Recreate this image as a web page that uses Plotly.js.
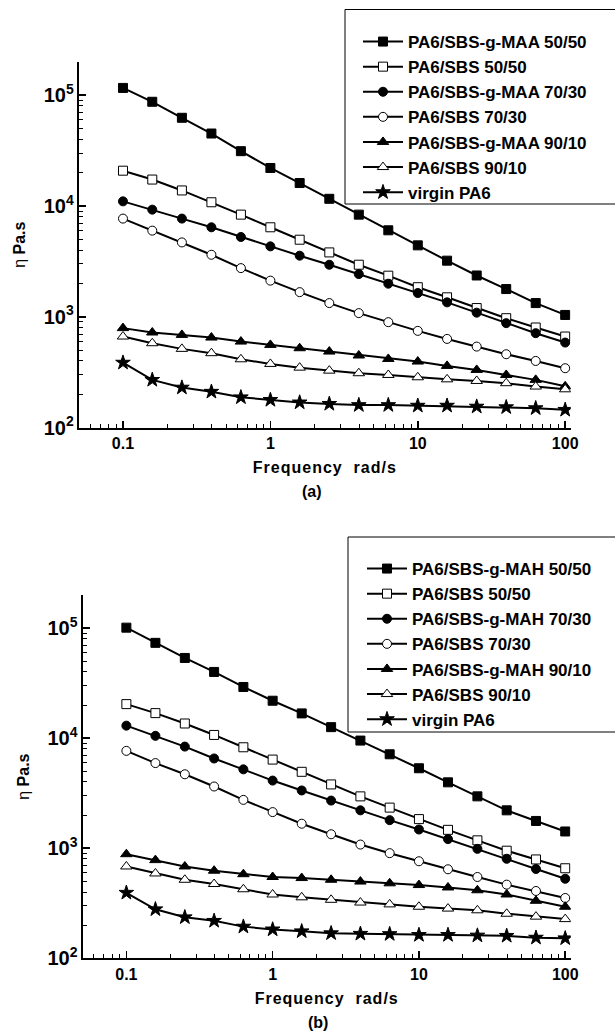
<!DOCTYPE html>
<html>
<head>
<meta charset="utf-8">
<script src="https://cdn.plot.ly/plotly-3.0.1.min.js"></script>
<style>
html,body{margin:0;padding:0;background:#fff;}
#chart{width:615px;height:1031px;}
.g-xtitle text, .g-x2title text{letter-spacing:1px;}
</style>
</head>
<body>
<div id="chart"></div>
<script>
// Frequency (rad/s)
const freq = [0.1, 0.158, 0.251, 0.398, 0.631, 1, 1.58, 2.51, 3.98, 6.31, 10, 15.8, 25.1, 39.8, 63.1, 100];

// Panel (a) legend names
const namesA = ["PA6/SBS-g-MAA 50/50", "PA6/SBS 50/50", "PA6/SBS-g-MAA 70/30", "PA6/SBS 70/30",
                "PA6/SBS-g-MAA 90/10", "PA6/SBS 90/10", "virgin PA6"];
// Panel (b) legend names
const namesB = ["PA6/SBS-g-MAH 50/50", "PA6/SBS 50/50", "PA6/SBS-g-MAH 70/30", "PA6/SBS 70/30",
                "PA6/SBS-g-MAH 90/10", "PA6/SBS 90/10", "virgin PA6"];

// Panel (a) viscosity values (Pa.s)
const a_maa5050 = [116000, 87000, 62400, 45000, 31200, 22000, 16100, 11600, 8350, 6030, 4410, 3210, 2360, 1780, 1330, 1040];
const a_sbs5050 = [20800, 17300, 13800, 10800, 8350, 6420, 4960, 3810, 2950, 2350, 1850, 1500, 1200, 972, 801, 664];
const a_maa7030 = [11000, 9260, 7690, 6420, 5250, 4320, 3560, 2950, 2430, 1990, 1640, 1350, 1090, 877, 712, 586];
const a_sbs7030 = [7690, 5990, 4690, 3630, 2750, 2120, 1670, 1330, 1080, 895, 747, 632, 539, 460, 400, 344];
const a_maa9010 = [791, 722, 687, 650, 598, 558, 521, 486, 448, 417, 395, 361, 332, 299, 270, 236];
const a_sbs9010 = [664, 578, 514, 470, 414, 376, 348, 327, 310, 299, 285, 273, 264, 252, 235, 222];
const a_pa6     = [386, 270, 230, 211, 188, 178, 169, 164, 160, 160, 158, 158, 155, 153, 150, 145];

// Panel (b) viscosity values (Pa.s)
const b_mah5050 = [101000, 73500, 53600, 40000, 29200, 21900, 16800, 12600, 9510, 7140, 5330, 3970, 2960, 2210, 1770, 1420];
const b_sbs5050 = [20400, 16900, 13600, 10700, 8270, 6390, 4950, 3800, 2960, 2340, 1840, 1470, 1180, 950, 791, 658];
const b_mah7030 = [13000, 10500, 8390, 6540, 5210, 4120, 3350, 2710, 2210, 1800, 1480, 1210, 987, 802, 648, 528];
const b_sbs7030 = [7670, 5940, 4700, 3640, 2750, 2130, 1670, 1340, 1080, 902, 762, 644, 548, 467, 409, 353];
const b_mah9010 = [883, 780, 683, 625, 581, 548, 536, 517, 498, 480, 463, 440, 415, 380, 333, 294];
const b_sbs9010 = [683, 590, 517, 473, 424, 380, 358, 340, 321, 309, 294, 283, 273, 254, 239, 227];
const b_pa6     = [394, 279, 236, 219, 194, 183, 176, 169, 167, 166, 163, 163, 161, 160, 154, 152];

const seriesA = [a_maa5050, a_sbs5050, a_maa7030, a_sbs7030, a_maa9010, a_sbs9010, a_pa6];
const seriesB = [b_mah5050, b_sbs5050, b_mah7030, b_sbs7030, b_mah9010, b_sbs9010, b_pa6];

const symbols = ["square", "square", "circle", "circle", "triangle-up", "triangle-up", "star"];
const fills   = ["#000", "#fff", "#000", "#fff", "#000", "#fff", "#000"];
const sizes   = [9, 9, 9, 9, 10, 10, 11];

const W = 615, H = 1031;
const px = v => v / W;
const py = v => 1 - v / H;

const FONT = "Liberation Sans, Arial, Helvetica, sans-serif";
const data = [];
function addSeries(list, names, xa, ya, leg) {
  list.forEach((vals, i) => {
    data.push({
      type: "scatter", mode: "lines+markers",
      x: freq, y: vals, name: names[i],
      xaxis: xa, yaxis: ya, legend: leg,
      line: {color: "#000", width: 2},
      marker: {symbol: symbols[i], size: sizes[i], color: fills[i], line: {color: "#000", width: 1}}
    });
  });
}
addSeries(seriesA, namesA, "x", "y", "legend");
addSeries(seriesB, namesB, "x2", "y2", "legend2");

const tickFont = {family: FONT, size: 16, color: "#000", weight: "bold"};
const xRange = [Math.log10(0.0503), Math.log10(109)];
const yRange = [2, Math.log10(200000)];

function xAxis(domain, anchor) {
  return {
    type: "log", range: xRange, domain: domain, anchor: anchor,
    dtick: 1, exponentformat: "none",
    showline: true, linecolor: "#000", linewidth: 2, mirror: false,
    ticks: "inside", ticklen: 7, tickwidth: 1.5, tickcolor: "#000",
    minor: {dtick: "D1", ticks: "inside", ticklen: 4, tickwidth: 1, tickcolor: "#000", showgrid: false},
    showgrid: false, zeroline: false,
    tickfont: tickFont,
    title: {text: "Frequency  rad/s", font: {family: FONT, size: 16, color: "#000", weight: "bold"}, standoff: 11}
  };
}
function yAxis(domain, anchor) {
  return {
    type: "log", range: yRange, domain: domain, anchor: anchor,
    dtick: 1, exponentformat: "power",
    showline: true, linecolor: "#000", linewidth: 2, mirror: false,
    ticks: "inside", ticklen: 7, tickwidth: 1.5, tickcolor: "#000",
    minor: {dtick: "D1", ticks: "inside", ticklen: 4, tickwidth: 1, tickcolor: "#000", showgrid: false},
    showgrid: false, zeroline: false,
    tickfont: tickFont,
    title: {text: "η <b>Pa.s</b>", font: {family: FONT, size: 16, color: "#000"}, standoff: 14}
  };
}

function legendCfg(x, y) {
  return {
    x: x, y: y, xanchor: "left", yanchor: "top",
    bgcolor: "rgba(0,0,0,0)", borderwidth: 0,
    font: {family: FONT, size: 17, color: "#000", weight: "bold"},
    itemwidth: 40, tracegroupgap: 0
  };
}

const layout = {
  width: W, height: H,
  margin: {l: 0, r: 0, t: 0, b: 0},
  paper_bgcolor: "#fff", plot_bgcolor: "#fff",
  showlegend: true,
  font: {family: FONT, color: "#000"},
  xaxis: xAxis([px(79), px(570.7)], "y"),
  yaxis: yAxis([py(427.7), py(61.7)], "x"),
  xaxis2: xAxis([px(82.7), px(570.7)], "y2"),
  yaxis2: yAxis([py(958.3), py(595)], "x2"),
  legend: legendCfg(px(358), py(24)),
  legend2: legendCfg(px(362), py(551)),
  shapes: [
    {type: "rect", xref: "paper", yref: "paper", x0: px(345), x1: 1.05, y0: py(204), y1: py(9.5),
     line: {color: "#000", width: 1}, fillcolor: "rgba(0,0,0,0)", layer: "below"},
    {type: "rect", xref: "paper", yref: "paper", x0: px(348), x1: 1.05, y0: py(732), y1: py(537),
     line: {color: "#000", width: 1}, fillcolor: "rgba(0,0,0,0)", layer: "below"}
  ],
  annotations: [
    {text: "(a)", xref: "paper", yref: "paper", x: px(312), y: py(492), xanchor: "center", yanchor: "middle",
     showarrow: false, font: {family: FONT, size: 16, color: "#000", weight: "bold"}},
    {text: "(b)", xref: "paper", yref: "paper", x: px(318), y: py(1022), xanchor: "center", yanchor: "middle",
     showarrow: false, font: {family: FONT, size: 16, color: "#000", weight: "bold"}}
  ]
};

Plotly.newPlot("chart", data, layout, {staticPlot: true, displayModeBar: false});
</script>
</body>
</html>
